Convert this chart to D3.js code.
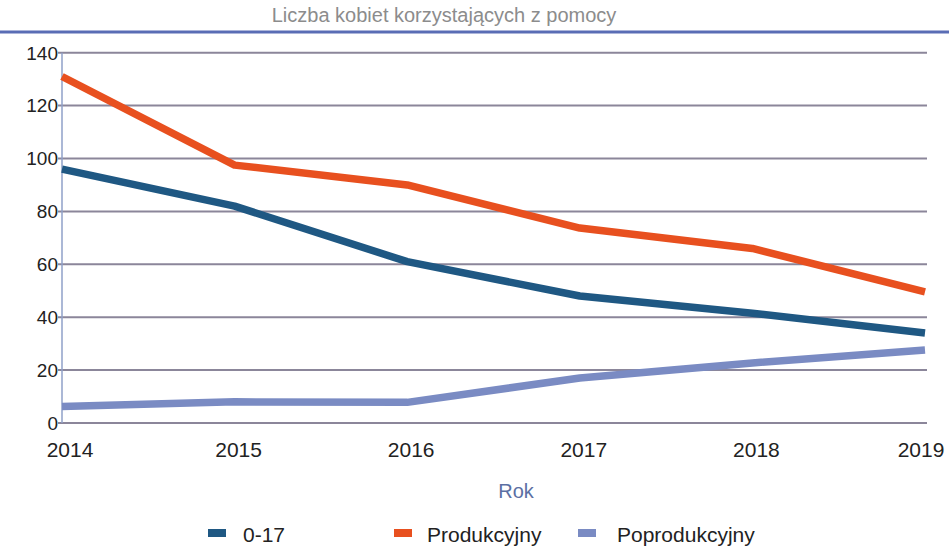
<!DOCTYPE html>
<html>
<head>
<meta charset="utf-8">
<script src="https://cdn.jsdelivr.net/npm/d3@7"></script>
<style>
  body { margin: 0; background: #fff; }
  svg { display: block; font-family: "Liberation Sans", Arial, sans-serif; }
</style>
</head>
<body>
<div id="chart"></div>
<script>
// dane
const lata = ["2014", "2015", "2016", "2017", "2018", "2019"];
const wiek0_17 = [96, 82, 61, 48, 41.5, 34];
const produkcyjny = [131, 97.5, 90, 73.7, 66, 49.6];
const poprodukcyjny = [6.2, 8, 7.8, 17, 22.7, 27.6];
const yTicks = [0, 20, 40, 60, 80, 100, 120, 140];

const serie = [
  { nazwa: "0-17", wartosci: wiek0_17, kolor: "#1f5883" },
  { nazwa: "Produkcyjny", wartosci: produkcyjny, kolor: "#e8501f" },
  { nazwa: "Poprodukcyjny", wartosci: poprodukcyjny, kolor: "#7a8bc3" }
];

const width = 949, height = 547;
const margin = {top: 52.7, left: 62, right: 24, bottom: 124};

const svg = d3.select("#chart").append("svg")
  .attr("width", width)
  .attr("height", height);

// tytuł
svg.append("text")
  .attr("x", 444).attr("y", 22)
  .attr("text-anchor", "middle")
  .attr("font-size", 20)
  .attr("fill", "#8c8c8c")
  .text("Liczba kobiet korzystających z pomocy");

svg.append("line")
  .attr("x1", 0).attr("x2", width)
  .attr("y1", 32).attr("y2", 32)
  .attr("stroke", "#5a6db5")
  .attr("stroke-width", 3);

const x = d3.scalePoint()
  .domain(lata)
  .range([margin.left, width - margin.right]);

const y = d3.scaleLinear()
  .domain([0, 140])
  .range([height - margin.bottom, margin.top]);

// linie siatki
svg.append("g")
  .selectAll("line")
  .data(yTicks)
  .enter().append("line")
    .attr("x1", margin.left - 4)
    .attr("x2", width - margin.right + 2)
    .attr("y1", d => y(d))
    .attr("y2", d => y(d))
    .attr("stroke", "#8b869a")
    .attr("stroke-width", 2);

// oś Y
svg.append("line")
  .attr("x1", margin.left).attr("x2", margin.left)
  .attr("y1", y(140)).attr("y2", y(0))
  .attr("stroke", "#8fa0c8")
  .attr("stroke-width", 1.5);

svg.append("g")
  .selectAll("text")
  .data(yTicks)
  .enter().append("text")
    .attr("x", margin.left - 4)
    .attr("y", d => y(d))
    .attr("dy", "0.36em")
    .attr("text-anchor", "end")
    .attr("font-size", 19)
    .attr("fill", "#222")
    .text(d => d);

// oś X
svg.append("g")
  .selectAll("text")
  .data(lata)
  .enter().append("text")
    .attr("x", (d, i) => x(d) + (i == 0 ? 8 : (i == lata.length - 1 ? -4 : 4)))
    .attr("y", 457)
    .attr("text-anchor", "middle")
    .attr("font-size", 21)
    .attr("fill", "#222")
    .text(d => d);

svg.append("text")
  .attr("x", 516).attr("y", 498)
  .attr("text-anchor", "middle")
  .attr("font-size", 20)
  .attr("fill", "#5b6fa3")
  .text("Rok");

// linie serii
const line = d3.line()
  .x((d, i) => x(lata[i]))
  .y(d => y(d));

svg.append("g")
  .selectAll("path")
  .data(serie)
  .enter().append("path")
    .attr("d", d => line(d.wartosci))
    .attr("fill", "none")
    .attr("stroke", d => d.kolor)
    .attr("stroke-width", 7.5)
    .attr("stroke-linejoin", "round");

// legenda
const legendaX = [208, 394, 578];
const leg = svg.append("g")
  .selectAll("g")
  .data(serie)
  .enter().append("g")
    .attr("transform", (d, i) => "translate(" + legendaX[i] + ",533)");

leg.append("rect")
  .attr("x", 0).attr("y", -4)
  .attr("width", 18).attr("height", 8)
  .attr("fill", d => d.kolor);

leg.append("text")
  .attr("x", (d, i) => i == 0 ? 35 : (i == 1 ? 33 : 39))
  .attr("y", 9)
  .attr("font-size", 21)
  .attr("fill", "#222")
  .text(d => d.nazwa);
</script>
</body>
</html>
